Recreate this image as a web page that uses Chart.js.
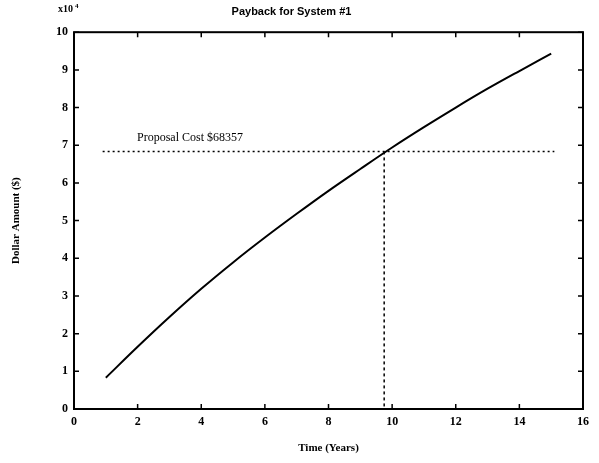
<!DOCTYPE html>
<html>
<head>
<meta charset="utf-8">
<script src="https://cdn.jsdelivr.net/npm/chart.js@4/dist/chart.umd.min.js"></script>
<style>
  html, body { margin: 0; padding: 0; background: #fff; }
  #wrap { width: 599px; height: 463px; }
</style>
</head>
<body>
<div id="wrap"><canvas id="grafico"></canvas></div>
<script>
// Dados (valores em unidades de 10^4 dólares)
const anos = [1, 2, 3, 4, 5, 6, 7, 8, 9, 10, 11, 12, 13, 14, 15];
const valores = [0.83, 1.65, 2.44, 3.19, 3.89, 4.55, 5.18, 5.79, 6.37, 6.94, 7.48, 8.0, 8.5, 8.97, 9.43];
const custoProposta = 6.8357;
const anoPayback = 9.75;
const custoX = [0.9, 15.1];
const ticksX = [0, 2, 4, 6, 8, 10, 12, 14, 16];
const ticksY = [0, 1, 2, 3, 4, 5, 6, 7, 8, 9, 10];

const fonteTexto = '"Liberation Serif", "DejaVu Serif", serif';

// Ticks para dentro nos quatro lados, mais o texto do custo e o "x10^4"
const extras = {
    id: 'extras',
    afterDraw(chart) {
        const { ctx, chartArea, scales } = chart;
        const x = scales.x, y = scales.y;
        ctx.save();
        ctx.strokeStyle = '#000';
        ctx.lineWidth = 1.5;
        ctx.beginPath();
        for (const v of ticksX) {
            const px = x.getPixelForValue(v);
            ctx.moveTo(px, chartArea.bottom); ctx.lineTo(px, chartArea.bottom - 5);
            ctx.moveTo(px, chartArea.top); ctx.lineTo(px, chartArea.top + 5);
        }
        for (const v of ticksY) {
            const py = y.getPixelForValue(v);
            ctx.moveTo(chartArea.left, py); ctx.lineTo(chartArea.left + 5, py);
            ctx.moveTo(chartArea.right, py); ctx.lineTo(chartArea.right - 5, py);
        }
        ctx.stroke();
        ctx.lineWidth = 2;
        ctx.strokeRect(chartArea.left, chartArea.top, chartArea.right - chartArea.left, chartArea.bottom - chartArea.top);

        ctx.fillStyle = '#000';
        ctx.font = '12px ' + fonteTexto;
        ctx.textAlign = 'left';
        ctx.textBaseline = 'alphabetic';
        ctx.fillText('Proposal Cost $68357', x.getPixelForValue(1.98), y.getPixelForValue(custoProposta + 0.28));

        ctx.font = 'bold 10px ' + fonteTexto;
        ctx.fillText('x10', chartArea.left - 16, chartArea.top - 20);
        ctx.font = 'bold 7px ' + fonteTexto;
        ctx.fillText('4', chartArea.left + 1, chartArea.top - 24);
        ctx.restore();
    }
};

new Chart(document.getElementById('grafico'), {
    type: 'scatter',
    data: {
        datasets: [
            {
                data: anos.map((a, i) => ({ x: a, y: valores[i] })),
                showLine: true,
                borderColor: '#000',
                borderWidth: 2,
                pointRadius: 0,
                cubicInterpolationMode: 'monotone'
            },
            {
                data: custoX.map(a => ({ x: a, y: custoProposta })),
                showLine: true,
                borderColor: '#000',
                borderWidth: 1.5,
                borderDash: [2, 3],
                pointRadius: 0
            },
            {
                data: [{ x: anoPayback, y: custoProposta }, { x: anoPayback, y: 0 }],
                showLine: true,
                borderColor: '#000',
                borderWidth: 1.5,
                borderDash: [3, 3],
                pointRadius: 0
            }
        ]
    },
    options: {
        responsive: true,
        maintainAspectRatio: false,
        animation: false,
        layout: { padding: { left: 0, right: 16, top: 0, bottom: 0 } },
        plugins: {
            legend: { display: false },
            tooltip: { enabled: false },
            title: {
                display: true,
                text: 'Payback for System #1',
                color: '#000',
                font: { family: '"Liberation Sans", Arial, sans-serif', size: 11, weight: 'bold' },
                padding: { top: 5, bottom: 14 }
            }
        },
        scales: {
            x: {
                type: 'linear',
                min: 0, max: 16,
                afterBuildTicks: s => { s.ticks = ticksX.map(v => ({ value: v })); },
                afterFit: s => { s.height = 54; },
                grid: { display: false, drawTicks: false },
                border: { display: false },
                ticks: { color: '#000', padding: 6, font: { family: fonteTexto, size: 12, weight: 'bold' } },
                title: {
                    display: true,
                    text: 'Time (Years)',
                    color: '#000',
                    font: { family: fonteTexto, size: 11, weight: 'bold' },
                    padding: { top: 0, bottom: 8 }
                }
            },
            y: {
                type: 'linear',
                min: 0, max: 10,
                afterBuildTicks: s => { s.ticks = ticksY.map(v => ({ value: v })); },
                afterFit: s => { s.width = 74; },
                grid: { display: false, drawTicks: false },
                border: { display: false },
                ticks: { color: '#000', padding: 6, font: { family: fonteTexto, size: 12, weight: 'bold' } },
                title: {
                    display: true,
                    text: 'Dollar Amount ($)',
                    color: '#000',
                    font: { family: fonteTexto, size: 11, weight: 'bold' },
                    padding: { top: 10, bottom: 0 }
                }
            }
        }
    },
    plugins: [extras]
});
</script>
</body>
</html>
